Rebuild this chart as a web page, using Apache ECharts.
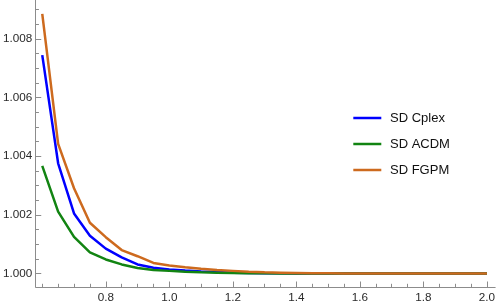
<!DOCTYPE html>
<html>
<head>
<meta charset="utf-8">
<script src="https://cdn.jsdelivr.net/npm/echarts@6/dist/echarts.min.js"></script>
<style>
html,body{margin:0;padding:0;background:#fff;}
#c{width:498px;height:305px;}
</style>
</head>
<body>
<div id="c"></div>
<script>
var xs = [0.6,0.65,0.7,0.75,0.8,0.85,0.9,0.95,1.0,1.05,1.1,1.15,1.2,1.25,1.3,1.35,1.4,1.45,1.5,1.55,1.6,1.65,1.7,1.75,1.8,1.85,1.9,1.95,2.0];
var sdCplex = [1.00745,1.00376,1.00205,1.00129,1.00085,1.00055,1.00031,1.00020,1.00014,1.00010,1.00007,1.00005,1.00003,1.00002,1.00001,1.00001,1.0,1.0,1.0,1.0,1.0,1.0,1.0,1.0,1.0,1.0,1.0,1.0,1.0];
var sdACDM = [1.00367,1.00211,1.00125,1.00072,1.00048,1.00031,1.00019,1.00012,1.00009,1.00006,1.00004,1.00003,1.00002,1.00001,1.00001,1.0,1.0,1.0,1.0,1.0,1.0,1.0,1.0,1.0,1.0,1.0,1.0,1.0,1.0];
var sdFGPM = [1.00886,1.00442,1.00291,1.00173,1.00124,1.00080,1.00059,1.00036,1.00027,1.00021,1.00016,1.00012,1.00009,1.00006,1.00004,1.00003,1.00002,1.00001,1.00001,1.0,1.0,1.0,1.0,1.0,1.0,1.0,1.0,1.0,1.0];
var seriesNames = ['SD Cplex','SD ACDM','SD FGPM'];
var xMajorTicks = [0.8,1.0,1.2,1.4,1.6,1.8,2.0];
var xMinorTicks = [0.6,0.65,0.7,0.75,0.85,0.9,0.95,1.05,1.1,1.15,1.25,1.3,1.35,1.45,1.5,1.55,1.65,1.7,1.75,1.85,1.9,1.95];
var yMajorTicks = [1.000,1.002,1.004,1.006,1.008];
var yMinorTicks = [1.0005,1.001,1.0015,1.0025,1.003,1.0035,1.0045,1.005,1.0055,1.0065,1.007,1.0075,1.0085,1.009];

var X_MIN = 0.5795, X_MAX = 2.026, Y_MIN = 0.99954, Y_MAX = 1.00933;
var axisGray = '#8c8c8c';
var colors = ['#0000ff','#128412','#cd6a1e'];

function pairs(ys){ return xs.map(function(x,i){ return [x, ys[i]]; }); }

var chart = echarts.init(document.getElementById('c'), null, {renderer:'canvas'});
var labelFont = {color:'#2a2a2a', fontSize:11.7, fontFamily:'"Liberation Sans", Arial, sans-serif'};
chart.setOption({
  animation:false,
  color: colors,
  grid:{left:33, right:2, top:0, bottom:18, containLabel:false},
  legend:{
    orient:'vertical', left:348.3, top:106.5,
    itemWidth:28, itemHeight:14, itemGap:13,
    icon:'path://M0,0L28,0L28,2.5L0,2.5Z',
    textStyle:{color:'#111', fontSize:13, fontFamily:'"Liberation Sans", Arial, sans-serif', padding:[0,0,0,3.7]},
    data: seriesNames
  },
  xAxis:[{
    type:'value', min:X_MIN, max:X_MAX, position:'bottom',
    axisLine:{show:true, onZero:false, lineStyle:{color:axisGray, width:1}},
    axisTick:{show:true, inside:true, length:5.5, customValues:xMajorTicks, lineStyle:{color:axisGray}},
    axisLabel:{show:true, customValues:xMajorTicks, margin:5, formatter:function(v){return v.toFixed(1);}, color:labelFont.color, fontSize:labelFont.fontSize, fontFamily:labelFont.fontFamily},
    splitLine:{show:false}
  },{
    type:'value', min:X_MIN, max:X_MAX, position:'bottom',
    axisLine:{show:false},
    axisTick:{show:true, inside:true, length:3.2, customValues:xMinorTicks, lineStyle:{color:axisGray}},
    axisLabel:{show:false},
    splitLine:{show:false}
  }],
  yAxis:[{
    type:'value', min:Y_MIN, max:Y_MAX, position:'left',
    axisLine:{show:true, onZero:false, lineStyle:{color:axisGray, width:1}},
    axisTick:{show:true, inside:true, length:5.5, customValues:yMajorTicks, lineStyle:{color:axisGray}},
    axisLabel:{show:true, customValues:yMajorTicks, margin:3.5, formatter:function(v){return v.toFixed(3);}, color:labelFont.color, fontSize:labelFont.fontSize, fontFamily:labelFont.fontFamily},
    splitLine:{show:false}
  },{
    type:'value', min:Y_MIN, max:Y_MAX, position:'left',
    axisLine:{show:false},
    axisTick:{show:true, inside:true, length:3.2, customValues:yMinorTicks, lineStyle:{color:axisGray}},
    axisLabel:{show:false},
    splitLine:{show:false}
  }],
  series:[
    {name:seriesNames[0], type:'line', data:pairs(sdCplex), symbol:'none', lineStyle:{width:2.5, color:colors[0]}, itemStyle:{color:colors[0]}},
    {name:seriesNames[1], type:'line', data:pairs(sdACDM), symbol:'none', lineStyle:{width:2.5, color:colors[1]}, itemStyle:{color:colors[1]}},
    {name:seriesNames[2], type:'line', data:pairs(sdFGPM), symbol:'none', lineStyle:{width:2.5, color:colors[2]}, itemStyle:{color:colors[2]}}
  ]
});
</script>
</body>
</html>
